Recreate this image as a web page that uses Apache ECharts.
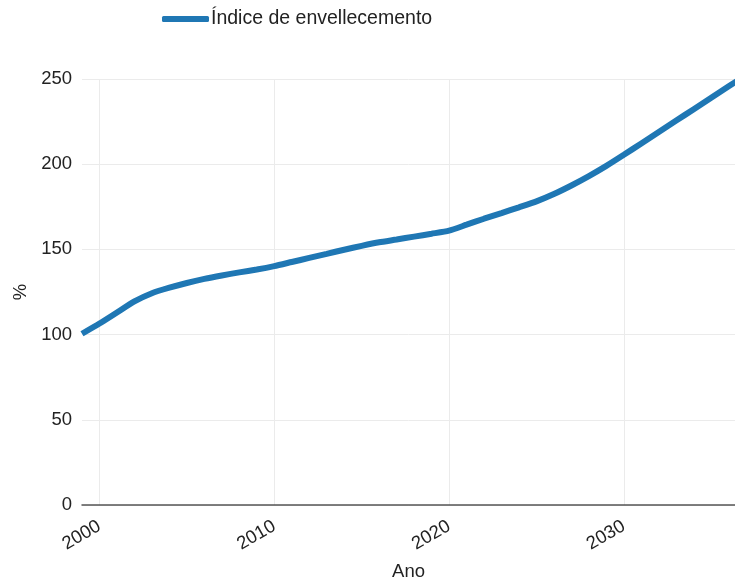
<!DOCTYPE html>
<html>
<head>
<meta charset="utf-8">
<script src="https://cdn.jsdelivr.net/npm/echarts@6/dist/echarts.min.js"></script>
<style>html,body{margin:0;padding:0;background:#fff}#c{width:735px;height:584px}</style>
</head>
<body>
<div id="c"></div>
<script>
const years = [1999,2000,2001,2002,2003,2004,2005,2006,2007,2008,2009,2010,2011,2012,2013,2014,2015,2016,2017,2018,2019,2020,2021,2022,2023,2024,2025,2026,2027,2028,2029,2030,2031,2032,2033,2034,2035,2036,2037];
const values = [100.5,106.5,113,119.5,124.3,127.5,130.3,132.7,134.7,136.5,138.2,140.2,142.6,145,147.4,149.8,152.1,154.2,155.8,157.5,159.2,161,164.5,168,171.3,174.7,178.2,182.5,187.5,193,199,205.5,212.2,218.9,225.6,232.3,239,245.7,252.4];
const xTickLabels = [2000,2010,2020,2030];
const yTickLabels = [0,50,100,150,200,250];
const seriesName = 'Índice de envellecemento';
const xName = 'Ano';
const yName = '%';

const font = 'Liberation Sans, Arial, sans-serif';
const fs = 18.5;
const chart = echarts.init(document.getElementById('c'));
chart.setOption({
  animation: false,
  backgroundColor: '#fff',
  textStyle: {fontFamily: font},
  legend: {
    left: 157, top: 4,
    icon: 'roundRect',
    itemWidth: 47, itemHeight: 6, itemGap: 10,
    textStyle: {fontSize: 19.5, color: '#222', fontFamily: font, padding: [0,0,0,-3]},
    data: [seriesName]
  },
  grid: {left: 82, right: 0, top: 79, bottom: 79, containLabel: false, outerBoundsMode: 'none'},
  xAxis: {
    type: 'value', min: 1999, max: 2036.36, splitNumber: 4,
    name: xName, nameLocation: 'middle', nameGap: 57,
    nameTextStyle: {fontSize: fs, color: '#222', fontFamily: font},
    axisLine: {show: true, onZero: false, lineStyle: {color: '#555', width: 1.5}},
    axisTick: {show: false},
    axisLabel: {
      rotate: 30, fontSize: fs, color: '#222', margin: 20, fontFamily: font,
      showMinLabel: false, showMaxLabel: false,
      formatter: v => xTickLabels.includes(Math.round(v)) && Math.abs(v - Math.round(v)) < 1e-6 ? String(Math.round(v)) : ''
    },
    splitLine: {show: true, showMinLine: false, showMaxLine: false, lineStyle: {color: '#ebebeb', width: 1}}
  },
  yAxis: {
    type: 'value', min: 0, max: 250, interval: 50,
    name: yName, nameLocation: 'middle', nameGap: 51, nameRotate: 90,
    nameTextStyle: {fontSize: fs, color: '#222', fontFamily: font},
    axisLine: {show: false}, axisTick: {show: false},
    axisLabel: {fontSize: fs, color: '#222', margin: 10, fontFamily: font,
      formatter: v => yTickLabels.includes(v) ? String(v) : ''},
    splitLine: {show: true, lineStyle: {color: '#ebebeb', width: 1}}
  },
  series: [{
    name: seriesName, type: 'line',
    data: years.map((y, i) => [y, values[i]]),
    showSymbol: false, symbol: 'none', smooth: 0.2,
    lineStyle: {width: 6, color: '#1f77b4'},
    itemStyle: {color: '#1f77b4'},
    clip: true
  }]
});
</script>
</body>
</html>
